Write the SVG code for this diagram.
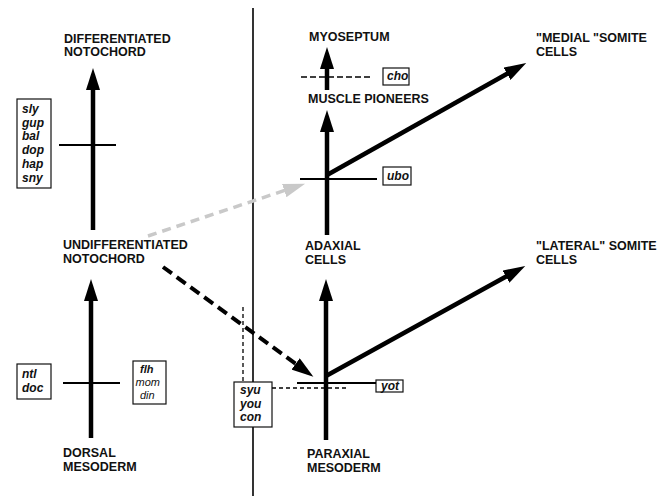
<svg xmlns="http://www.w3.org/2000/svg" width="665" height="496" viewBox="0 0 665 496">
<style>
.lbl{font-family:"Liberation Sans",Arial,sans-serif;font-weight:bold;font-size:12.5px;fill:#111}
.gene{font-family:"Liberation Sans",Arial,sans-serif;font-weight:bold;font-style:italic;font-size:12px;fill:#111}
.sm{font-size:11px}
.genel{font-family:"Liberation Sans",Arial,sans-serif;font-style:italic;font-size:11px;fill:#111}
.box{fill:#fff;stroke:#111;stroke-width:1.2}
.shaft{stroke:#000;stroke-width:4.5;fill:none}
.bar{stroke:#000;stroke-width:1.8;fill:none}
.dot{stroke:#000;stroke-width:1.3;stroke-dasharray:4 3;fill:none}
</style>
<defs>
<marker id="ah" markerUnits="userSpaceOnUse" markerWidth="24" markerHeight="14" refX="12" refY="7" orient="auto" viewBox="0 0 24 14">
<path d="M0,0 L22,7 L0,14 z" fill="#000"/>
</marker>
<marker id="ahg" markerUnits="userSpaceOnUse" markerWidth="24" markerHeight="14" refX="12" refY="7" orient="auto" viewBox="0 0 24 14">
<path d="M0,0 L22,7 L0,14 z" fill="#c9c9c9"/>
</marker>
</defs>
<rect width="665" height="496" fill="#fff"/>

<g id="divider"><line x1="253" y1="8" x2="253" y2="496" stroke="#000" stroke-width="1.6"/></g>

<g id="n-diff-notochord"><text class="lbl" x="64" y="43">DIFFERENTIATED</text><text class="lbl" x="64" y="56">NOTOCHORD</text></g>
<g id="n-undiff-notochord"><text class="lbl" x="63" y="249">UNDIFFERENTIATED</text><text class="lbl" x="63" y="263">NOTOCHORD</text></g>
<g id="n-dorsal-mesoderm"><text class="lbl" x="63" y="457">DORSAL</text><text class="lbl" x="63" y="471">MESODERM</text></g>
<g id="n-myoseptum"><text class="lbl" x="309" y="41">MYOSEPTUM</text></g>
<g id="n-muscle-pioneers"><text class="lbl" x="308" y="103">MUSCLE PIONEERS</text></g>
<g id="n-adaxial"><text class="lbl" x="305" y="250">ADAXIAL</text><text class="lbl" x="305" y="264">CELLS</text></g>
<g id="n-paraxial"><text class="lbl" x="307" y="458">PARAXIAL</text><text class="lbl" x="307" y="472">MESODERM</text></g>
<g id="n-medial"><text class="lbl" x="536" y="42">"MEDIAL "SOMITE</text><text class="lbl" x="536" y="56">CELLS</text></g>
<g id="n-lateral"><text class="lbl" x="536" y="250">"LATERAL" SOMITE</text><text class="lbl" x="536" y="264">CELLS</text></g>

<g id="g-sly"><rect class="box" x="17" y="99" width="34" height="89"/>
<text class="gene" x="22" y="113">sly</text><text class="gene" x="22" y="127">gup</text><text class="gene" x="22" y="140">bal</text><text class="gene" x="22" y="154">dop</text><text class="gene" x="22" y="168">hap</text><text class="gene" x="22" y="182">sny</text></g>
<g id="g-ntl"><rect class="box" x="17" y="364" width="34" height="35"/>
<text class="gene" x="22" y="378">ntl</text><text class="gene" x="22" y="392">doc</text></g>
<g id="g-flh"><rect class="box" x="133" y="361" width="33" height="43"/>
<text class="gene sm" x="140" y="373">flh</text><text class="genel" x="135.5" y="386">mom</text><text class="genel" x="140" y="399">din</text></g>
<g id="g-cho"><rect class="box" x="383" y="68" width="26" height="17"/><text class="gene" x="387" y="80">cho</text></g>
<g id="g-ubo"><rect class="box" x="383" y="167" width="28" height="18"/><text class="gene" x="387" y="180">ubo</text></g>
<g id="g-yot"><rect class="box" x="376" y="380" width="27" height="12"/><text class="gene" x="381" y="390">yot</text></g>
<g id="g-syu"><rect class="box" x="234" y="382" width="38" height="45"/>
<text class="gene" x="240" y="394">syu</text><text class="gene" x="240" y="408">you</text><text class="gene" x="240" y="421">con</text></g>

<g id="connectors">
<line class="shaft" x1="93" y1="230" x2="93" y2="78" marker-end="url(#ah)"/>
<line class="shaft" x1="91" y1="438" x2="91" y2="289" marker-end="url(#ah)"/>
<line class="shaft" x1="327" y1="90" x2="327" y2="57" marker-end="url(#ah)"/>
<line class="shaft" x1="327" y1="235" x2="327" y2="120" marker-end="url(#ah)"/>
<line class="shaft" x1="326" y1="440" x2="326" y2="289" marker-end="url(#ah)"/>
<line class="shaft" x1="327" y1="175" x2="517.5" y2="67.9" marker-end="url(#ah)"/>
<line class="shaft" x1="326" y1="376" x2="516.5" y2="270.8" marker-end="url(#ah)"/>
<line x1="163" y1="267" x2="305.3" y2="370.9" stroke="#000" stroke-width="4" stroke-dasharray="11 6" marker-end="url(#ah)"/>
<line x1="148" y1="236" x2="295.6" y2="186.8" stroke="#c9c9c9" stroke-width="3.5" stroke-dasharray="9 6" marker-end="url(#ahg)"/>
<line class="bar" x1="59" y1="145" x2="116" y2="145"/>
<line class="bar" x1="63" y1="383" x2="120" y2="383"/>
<line class="bar" x1="300" y1="179" x2="377" y2="179"/>
<line class="bar" x1="297" y1="383" x2="376" y2="383"/>
<line x1="301" y1="77" x2="373" y2="77" stroke="#000" stroke-width="1.6" stroke-dasharray="6 3"/>
<line class="dot" x1="243" y1="307" x2="243" y2="382"/>
<line class="dot" x1="272" y1="388" x2="347" y2="388"/>
</g>
</svg>
